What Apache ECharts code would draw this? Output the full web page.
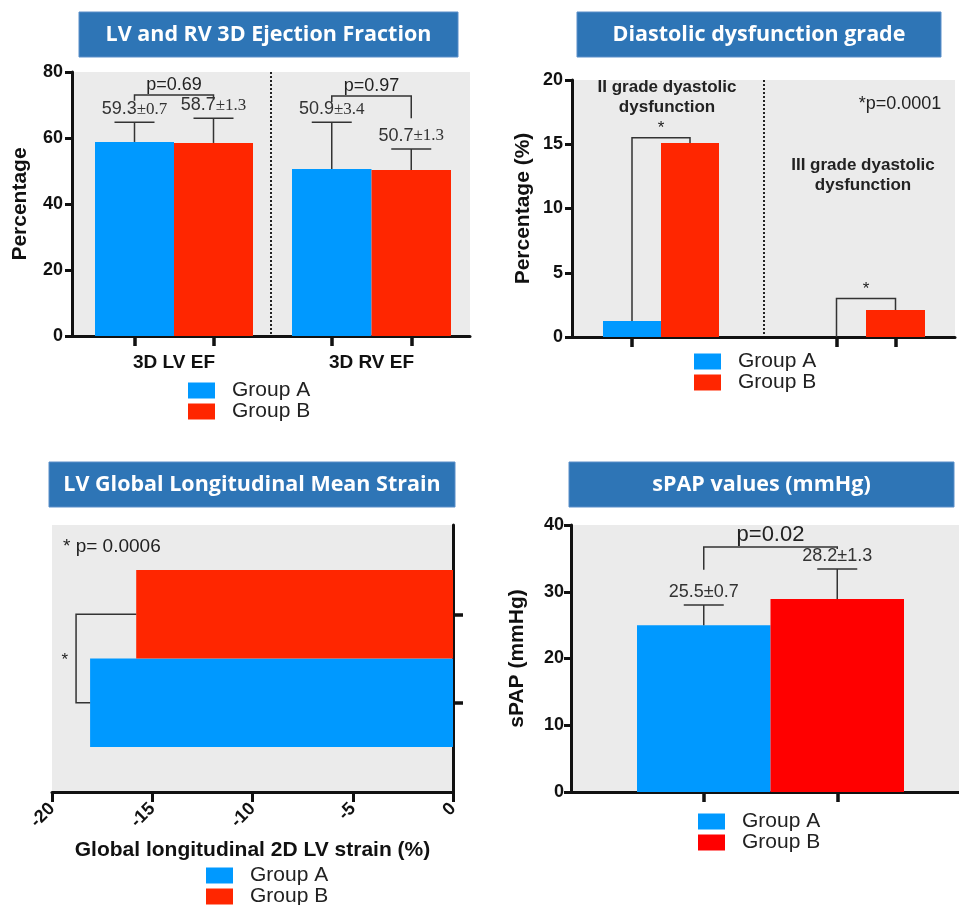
<!DOCTYPE html>
<html>
<head>
<meta charset="utf-8">
<script src="https://cdn.jsdelivr.net/npm/echarts@6/dist/echarts.min.js"></script>
<style>
  html, body { margin: 0; padding: 0; background: #fff; }
  #chart { width: 959px; height: 905px; }
</style>
</head>
<body>
<div id="chart"></div>
<script>
// ---- data ----
const groupNames = ['Group A', 'Group B'];

// LV and RV 3D ejection fraction
const efCategories = ['3D LV EF', '3D RV EF'];
const efGroupA = [58.8, 50.6];
const efGroupB = [58.5, 50.3];
const efUpperA = [64.8, 64.8];
const efUpperB = [66.0, 56.7];
const efLabelA = ['59.3±0.7', '50.9±3.4'];
const efLabelB = ['58.7±1.3', '50.7±1.3'];
const efPValues = ['p=0.69', 'p=0.97'];
const efYTicks = [0, 20, 40, 60, 80];

// diastolic dysfunction grade
const ddGrades = ['II grade dyastolic\ndysfunction', 'III grade dyastolic\ndysfunction'];
const ddGroupA = [1.25, 0];
const ddGroupB = [15.1, 2.1];
const ddYTicks = [0, 5, 10, 15, 20];

// LV global longitudinal strain (Group A, Group B)
const glsValues = [-18.1, -15.8];
const glsXTicks = [-20, -15, -10, -5, 0];

// sPAP (Group A, Group B)
const spapValues = [25.0, 28.9];
const spapUpper = [28.0, 33.4];
const spapLabels = ['25.5±0.7', '28.2±1.3'];
const spapYTicks = [0, 10, 20, 30, 40];

// ---- styles ----
const FONT = 'Liberation Sans';
const BLUE = '#0099FF';
const RED = '#FF2600';
const RED2 = '#FF0000';
const BG = '#EBEBEB';
const INK = '#111';
const NOTE = '#333';
const TITLE_BLUE = '#2E75B6';

const chart = echarts.init(document.getElementById('chart'));

const nameStyle = { fontFamily: FONT, fontWeight: 'bold', fontSize: 21, color: INK };
const tickLabel = { fontFamily: FONT, fontWeight: 'bold', fontSize: 18, color: INK };
const thick = { color: INK, width: 3 };

function grid(left, top, width, height, bg) {
  return {
    left, top, width, height, show: !!bg, backgroundColor: bg || 'transparent',
    borderWidth: 0, containLabel: false, outerBoundsMode: 'none'
  };
}

function valueAxis(gridIndex, ticks, extra) {
  return Object.assign({
    gridIndex, type: 'value',
    min: ticks[0], max: ticks[ticks.length - 1], interval: ticks[1] - ticks[0],
    axisLine: { show: true, onZero: false, lineStyle: thick },
    axisTick: { show: true, length: 7, lineStyle: thick },
    axisLabel: Object.assign({ margin: 9 }, tickLabel),
    splitLine: { show: false }
  }, extra);
}

function hiddenValue(gridIndex, ticks) {
  return { gridIndex, type: 'value', show: false, min: ticks[0], max: ticks[ticks.length - 1] };
}

function bgCategory(gridIndex, data, split, extra) {
  return Object.assign({
    gridIndex, type: 'category', data,
    axisLine: { show: true, onZero: false, lineStyle: thick },
    axisTick: { show: false },
    axisLabel: { show: false },
    splitLine: {
      show: split, interval: 0, showMinLine: false, showMaxLine: false,
      lineStyle: { color: '#222', width: 2, type: [2, 2] }
    }
  }, extra);
}

function groupCategory(gridIndex, name, extra) {
  return Object.assign({
    gridIndex, type: 'category', data: groupNames,
    axisLine: { show: false },
    axisTick: { show: true, alignWithLabel: true, length: 10, lineStyle: { color: INK, width: 3.5 } },
    axisLabel: { show: false },
    name: name || '', nameLocation: 'middle', nameGap: 17,
    nameTextStyle: Object.assign({}, nameStyle, { fontSize: 19 })
  }, extra);
}

function barPair(gridIndex, a, b, colorB) {
  const common = {
    type: 'bar', xAxisIndex: gridIndex, yAxisIndex: gridIndex,
    barGap: '-100%', barCategoryGap: '0%', silent: true
  };
  return [
    Object.assign({ name: 'Group A', data: [a, '-'], itemStyle: { color: BLUE } }, common),
    Object.assign({ name: 'Group B', data: ['-', b], itemStyle: { color: colorB } }, common)
  ];
}

function errorSeries(gridIndex, means, uppers, labels, serifSd) {
  return {
    type: 'custom', xAxisIndex: gridIndex, yAxisIndex: gridIndex, z: 5, silent: true,
    encode: { x: 0, y: [1, 2] },
    data: means.map((m, i) => [i, m, uppers[i]]),
    renderItem(params, api) {
      const base = api.coord([api.value(0), api.value(1)]);
      const top = api.coord([api.value(0), api.value(2)]);
      const parts = labels[params.dataIndex].split('±');
      const line = { stroke: NOTE, lineWidth: 1.5 };
      return {
        type: 'group',
        children: [
          { type: 'line', shape: { x1: base[0], y1: base[1], x2: top[0], y2: top[1] }, style: line },
          { type: 'line', shape: { x1: top[0] - 20, y1: top[1], x2: top[0] + 20, y2: top[1] }, style: line },
          {
            type: 'text',
            style: {
              x: top[0], y: top[1] - 4,
              text: '{n|' + parts[0] + '}{s|±' + parts[1] + '}',
              align: 'center', verticalAlign: 'bottom',
              textAlign: 'center', textVerticalAlign: 'bottom',
              rich: {
                n: { fontFamily: FONT, fontSize: 18, fill: NOTE },
                s: serifSd
                  ? { fontFamily: 'Liberation Serif', fontSize: 17, fill: NOTE }
                  : { fontFamily: FONT, fontSize: 18, fill: NOTE }
              }
            }
          }
        ]
      };
    }
  };
}

// bracket between the two bars of a group, drawn at a value level
function bracketSeries(gridIndex, level, leftEnd, rightEnd, text, fontSize) {
  return {
    type: 'custom', xAxisIndex: gridIndex, yAxisIndex: gridIndex, z: 5, silent: true,
    encode: { x: 0, y: 1 },
    data: [[0, level, leftEnd, rightEnd]],
    renderItem(params, api) {
      const pl = api.coord([0, api.value(1)]);
      const pr = api.coord([1, api.value(1)]);
      const le = api.coord([0, api.value(2)]);
      const re = api.coord([1, api.value(3)]);
      return {
        type: 'group',
        children: [
          {
            type: 'polyline',
            shape: { points: [[pl[0], le[1]], pl, pr, [pr[0], re[1]]] },
            style: { stroke: NOTE, lineWidth: 1.5, fill: 'none' }
          },
          {
            type: 'text',
            style: {
              x: (pl[0] + pr[0]) / 2, y: pl[1] - 1, text,
              align: 'center', verticalAlign: 'bottom',
              textAlign: 'center', textVerticalAlign: 'bottom',
              fontFamily: FONT, fontSize, fill: '#222'
            }
          }
        ]
      };
    }
  };
}

// horizontal version for the strain panel
function sideBracketSeries(gridIndex, level, endA, endB, text) {
  return {
    type: 'custom', xAxisIndex: gridIndex, yAxisIndex: gridIndex, z: 5, silent: true,
    encode: { x: 0, y: 1 },
    data: [[level, 0, endA, endB]],
    renderItem(params, api) {
      const pa = api.coord([api.value(0), 0]);
      const pb = api.coord([api.value(0), 1]);
      const ea = api.coord([api.value(2), 0]);
      const eb = api.coord([api.value(3), 1]);
      return {
        type: 'group',
        children: [
          {
            type: 'polyline',
            shape: { points: [[eb[0], pb[1]], pb, pa, [ea[0], pa[1]]] },
            style: { stroke: NOTE, lineWidth: 1.5, fill: 'none' }
          },
          {
            type: 'text',
            style: {
              x: pa[0] - 8, y: (pa[1] + pb[1]) / 2 + 2, text,
              align: 'right', verticalAlign: 'middle',
              textAlign: 'right', textVerticalAlign: 'middle',
              fontFamily: FONT, fontSize: 17, fill: '#222'
            }
          }
        ]
      };
    }
  };
}

function groupLegend(left, top, colorB) {
  return {
    left, top, height: 60, orient: 'vertical', padding: 0, itemGap: 0,
    itemWidth: 27, itemHeight: 16, icon: 'rect', selectedMode: false,
    data: [
      { name: 'Group A', itemStyle: { color: BLUE } },
      { name: 'Group B', itemStyle: { color: colorB } }
    ],
    textStyle: { fontFamily: FONT, fontSize: 21, color: '#222', lineHeight: 16, padding: [0, 0, 0, 12] }
  };
}

function titleBox(x, y, w, h, text) {
  return [
    { type: 'rect', shape: { x, y, width: w, height: h }, style: { fill: TITLE_BLUE, stroke: '#5B8FC9', lineWidth: 1 } },
    {
      type: 'text',
      style: {
        x: x + w / 2, y: y + h / 2, text,
        align: 'center', verticalAlign: 'middle',
        textAlign: 'center', textVerticalAlign: 'middle',
        fill: '#fff', fontFamily: 'Open Sans', fontWeight: 'bold', fontSize: 21.5
      }
    }
  ];
}

function note(x, y, text, opts) {
  return {
    type: 'text',
    style: Object.assign({
      x, y, text, fill: '#222', fontFamily: FONT, fontSize: 18,
      align: 'center', verticalAlign: 'middle', textAlign: 'center', textVerticalAlign: 'middle'
    }, opts)
  };
}

const option = {
  animation: false,
  backgroundColor: '#fff',
  textStyle: { fontFamily: FONT },
  grid: [
    grid(72, 72, 398, 264, BG),      // 0 EF background
    grid(95, 72, 158, 264),          // 1 LV bars
    grid(292, 72, 159, 264),         // 2 RV bars
    grid(572, 80, 383, 257, BG),     // 3 DD background
    grid(603, 80, 116, 257),         // 4 grade II bars
    grid(807, 80, 118, 257),         // 5 grade III bars
    grid(52, 525, 401, 267, BG),     // 6 strain background
    grid(52, 570, 401, 177),         // 7 strain bars
    grid(571, 525, 400, 267, BG),    // 8 sPAP background
    grid(637, 525, 267, 267)         // 9 sPAP bars
  ],
  xAxis: [
    bgCategory(0, efCategories, true),
    groupCategory(1, efCategories[0]),
    groupCategory(2, efCategories[1]),
    bgCategory(3, ddGrades, true),
    groupCategory(4),
    groupCategory(5),
    valueAxis(6, glsXTicks, {
      position: 'bottom',
      axisTick: { show: true, length: 10, lineStyle: thick },
      axisLabel: Object.assign({ margin: 14, rotate: 45 }, tickLabel),
      name: 'Global longitudinal 2D LV strain (%)', nameLocation: 'middle', nameGap: 48,
      nameTextStyle: nameStyle
    }),
    hiddenValue(7, glsXTicks),
    bgCategory(8, ['sPAP'], false),
    groupCategory(9)
  ],
  yAxis: [
    valueAxis(0, efYTicks, { name: 'Percentage', nameLocation: 'middle', nameGap: 41, nameTextStyle: nameStyle }),
    hiddenValue(1, efYTicks),
    hiddenValue(2, efYTicks),
    valueAxis(3, ddYTicks, { name: 'Percentage (%)', nameLocation: 'middle', nameGap: 38, nameTextStyle: nameStyle }),
    hiddenValue(4, ddYTicks),
    hiddenValue(5, ddYTicks),
    bgCategory(6, [''], false, { position: 'right' }),
    groupCategory(7, '', { position: 'right' }),
    valueAxis(8, spapYTicks, {
      axisLabel: Object.assign({ margin: 7 }, tickLabel),
      name: 'sPAP (mmHg)', nameLocation: 'middle', nameGap: 43, nameTextStyle: nameStyle
    }),
    hiddenValue(9, spapYTicks)
  ],
  legend: [
    groupLegend(188, 380, RED),
    groupLegend(694, 351, RED),
    groupLegend(206, 865, RED),
    groupLegend(698, 811, RED2)
  ],
  series: [
    ...barPair(1, efGroupA[0], efGroupB[0], RED),
    ...barPair(2, efGroupA[1], efGroupB[1], RED),
    errorSeries(1, [efGroupA[0], efGroupB[0]], [efUpperA[0], efUpperB[0]], [efLabelA[0], efLabelB[0]], true),
    errorSeries(2, [efGroupA[1], efGroupB[1]], [efUpperA[1], efUpperB[1]], [efLabelA[1], efLabelB[1]], true),
    bracketSeries(1, 73, 71.3, 71.5, efPValues[0], 18),
    bracketSeries(2, 72.7, 70.9, 66, efPValues[1], 18),

    ...barPair(4, ddGroupA[0], ddGroupB[0], RED),
    ...barPair(5, ddGroupA[1], ddGroupB[1], RED),
    bracketSeries(4, 15.5, ddGroupA[0], ddGroupB[0], '*', 17),
    bracketSeries(5, 3.0, ddGroupA[1], ddGroupB[1], '*', 17),

    ...barPair(7, glsValues[0], glsValues[1], RED),
    sideBracketSeries(7, -18.8, glsValues[0], glsValues[1], '*'),

    ...barPair(9, spapValues[0], spapValues[1], RED2),
    errorSeries(9, spapValues, spapUpper, spapLabels, false),
    bracketSeries(9, 36.7, 33.3, 36.4, 'p=0.02', 22)
  ],
  graphic: [
    ...titleBox(79, 12, 379, 45, 'LV and RV 3D Ejection Fraction'),
    ...titleBox(577, 12, 364, 45, 'Diastolic dysfunction grade'),
    ...titleBox(49, 462, 406, 45, 'LV Global Longitudinal Mean Strain'),
    ...titleBox(569, 462, 385, 45, 'sPAP values (mmHg)'),
    note(667, 97, ddGrades[0], { fontWeight: 'bold', fontSize: 17, lineHeight: 20 }),
    note(863, 175, ddGrades[1], { fontWeight: 'bold', fontSize: 17, lineHeight: 20 }),
    note(900, 104, '*p=0.0001'),
    note(63, 547, '* p= 0.0006', { fontSize: 19, align: 'left', textAlign: 'left' })
  ]
};

chart.setOption(option);
</script>
</body>
</html>
